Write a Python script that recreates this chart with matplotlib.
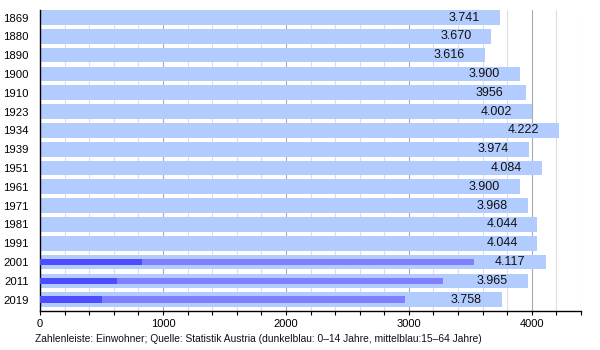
import matplotlib
matplotlib.use("Agg")
import matplotlib.pyplot as plt
from matplotlib.ticker import MultipleLocator
from matplotlib import font_manager

# Census years and total inhabitants
years = ["1869", "1880", "1890", "1900", "1910", "1923", "1934", "1939",
         "1951", "1961", "1971", "1981", "1991", "2001", "2011", "2019"]
population = [3741, 3670, 3616, 3900, 3956, 4002, 4222, 3974,
              4084, 3900, 3968, 4044, 4044, 4117, 3965, 3758]
value_labels = ["3.741", "3.670", "3.616", "3.900", "3956", "4.002", "4.222",
                "3.974", "4.084", "3.900", "3.968", "4.044", "4.044",
                "4.117", "3.965", "3.758"]

# Age groups for the recent censuses (cumulative bar ends)
age_years = ["2001", "2011", "2019"]
age_0_14 = [831, 628, 503]
age_15_64_end = [3529, 3276, 2966]

tick_values = [0, 1000, 2000, 3000, 4000]
caption = ("Zahlenleiste: Einwohner; Quelle: Statistik Austria "
           "(dunkelblau: 0\u201314 Jahre, mittelblau:15\u201364 Jahre)")

names = {f.name for f in font_manager.fontManager.ttflist}
narrow = "Liberation Sans Narrow" if "Liberation Sans Narrow" in names else "Liberation Sans"
plt.rcParams["font.family"] = ["Liberation Sans", "DejaVu Sans"]

light = "#b3ccff"
mid = "#8080ff"
dark = "#4d4dff"

fig = plt.figure(figsize=(6, 3.5), dpi=100)
ax = fig.add_axes([40 / 600, 1 - 310.7 / 350, 541 / 600, 300.7 / 350])

pos = list(range(len(years)))
ax.barh(pos, population, height=0.78, color=light, zorder=2)

row = {y: i for i, y in enumerate(years)}
age_pos = [row[y] for y in age_years]
ax.barh(age_pos, age_15_64_end, height=0.34, color=mid, zorder=3)
ax.barh(age_pos, age_0_14, height=0.34, color=dark, zorder=4)

for p, v, t in zip(pos, population, value_labels):
    ax.text(v - 415, p, t, ha="left", va="center", fontsize=9,
            color="#111111", zorder=5)

ax.set_xlim(0, 4400)
ax.set_ylim(len(years) - 1 + 0.585, -0.4)
ax.set_yticks(pos)
ax.set_yticklabels(years, fontsize=8.2, family=narrow)
ax.tick_params(axis="y", length=0, pad=8)

ax.set_xticks(tick_values)
ax.set_xticklabels([str(v) for v in tick_values], fontsize=8, family=narrow)
ax.xaxis.set_minor_locator(MultipleLocator(200))
ax.tick_params(axis="x", which="both", direction="out", length=3,
               width=0.8, color="black", pad=3)

ax.grid(axis="x", which="major", color="#aaaaaa", linewidth=0.8, zorder=0)
ax.grid(axis="x", which="minor", color="#dddddd", linewidth=0.8, zorder=0)
ax.set_axisbelow(True)

for side in ("top", "right"):
    ax.spines[side].set_visible(False)
for side in ("left", "bottom"):
    ax.spines[side].set_color("black")
    ax.spines[side].set_linewidth(1.0)

fig.text(35 / 600, 1 - 339 / 350, caption, fontsize=7.4, family=narrow,
         ha="left", va="center", color="#111111")

fig.savefig("out.png", dpi=100)
